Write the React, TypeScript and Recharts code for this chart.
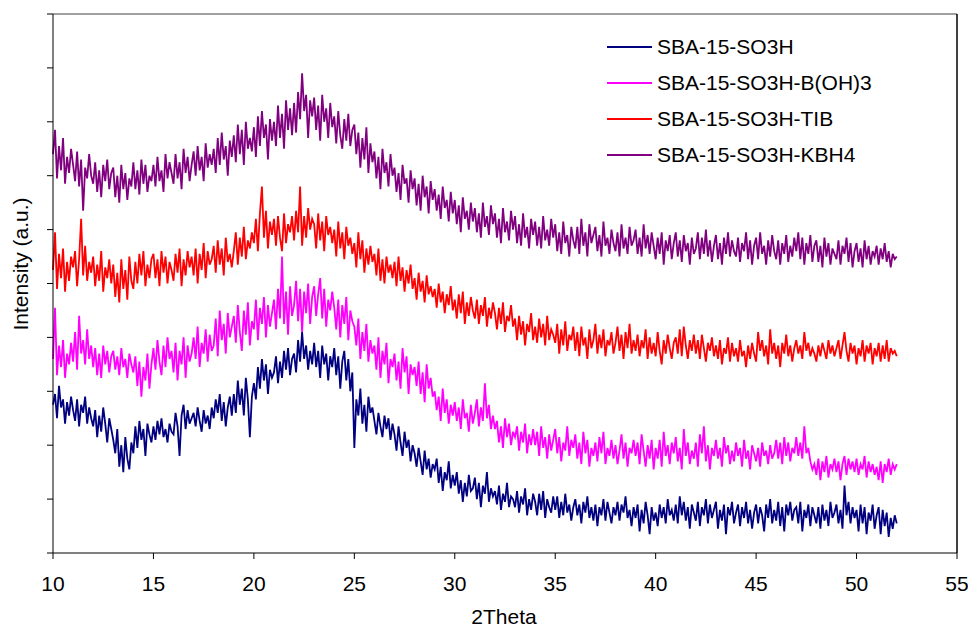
import React from "react";
import { LineChart, Line, XAxis, YAxis, ReferenceLine } from "recharts";

// 2Theta grid: 10.0 .. 52.0, step 0.1 (one row of ten values per degree)
const thetaStart = 10;
const thetaStep = 0.1;

const sba15SO3H = [
  2.75, 2.95, 2.50, 3.10, 2.70, 2.85, 2.40, 2.80, 2.55, 2.90,
  2.65, 2.45, 2.85, 2.35, 2.75, 2.60, 2.90, 2.40, 2.70, 2.50,
  2.35, 2.65, 2.15, 2.55, 2.25, 2.70, 2.40, 2.05, 2.50, 2.30,
  2.10, 1.85, 2.30, 1.60, 2.00, 1.50, 2.15, 1.75, 1.55, 2.05,
  1.85, 2.35, 1.95, 2.45, 2.10, 2.30, 1.80, 2.40, 2.20, 2.05,
  2.35, 2.10, 2.45, 2.20, 2.50, 2.15, 2.30, 2.05, 2.40, 2.25,
  2.20, 2.60, 2.35, 1.80, 2.55, 2.75, 2.30, 2.65, 2.40, 2.50,
  2.60, 2.35, 2.70, 2.45, 2.25, 2.65, 2.40, 2.55, 2.30, 2.70,
  2.50, 2.85, 2.60, 2.95, 2.45, 2.80, 2.35, 2.70, 2.90, 2.55,
  2.95, 2.60, 3.20, 2.75, 3.05, 2.55, 3.25, 2.85, 2.15, 2.90,
  3.15, 2.85, 3.45, 3.05, 3.60, 3.20, 3.50, 2.95, 3.40, 3.25,
  3.35, 3.65, 3.15, 3.55, 3.25, 3.75, 3.40, 3.80, 3.30, 3.60,
  3.70, 3.35, 3.95, 3.55, 4.10, 3.60, 3.85, 3.40, 3.75, 3.50,
  3.90, 3.45, 3.75, 3.25, 3.85, 3.50, 3.70, 3.20, 3.65, 3.45,
  3.80, 3.30, 3.65, 3.05, 3.55, 3.75, 3.20, 3.60, 3.00, 3.35,
  1.95, 2.85, 2.55, 3.05, 2.40, 2.75, 2.25, 2.90, 2.60, 2.70,
  2.45, 2.20, 2.60, 2.35, 2.15, 2.55, 2.30, 2.50, 2.10, 2.40,
  2.20, 1.90, 2.35, 2.05, 1.80, 2.25, 1.95, 2.10, 1.70, 2.00,
  1.85, 1.60, 1.95, 1.70, 1.45, 1.90, 1.55, 1.75, 1.40, 1.65,
  1.55, 1.75, 1.30, 1.60, 1.15, 1.50, 1.35, 1.70, 1.20, 1.45,
  1.25, 1.50, 1.10, 1.35, 0.95, 1.30, 1.05, 1.45, 1.15, 1.20,
  1.40, 1.00, 1.30, 0.85, 1.25, 1.10, 1.50, 0.95, 1.20, 1.05,
  1.15, 0.90, 1.25, 0.80, 1.10, 0.95, 1.30, 0.85, 1.05, 1.00,
  0.85, 1.15, 0.75, 1.05, 0.90, 1.20, 0.70, 1.00, 0.80, 1.10,
  0.95, 0.70, 1.10, 0.80, 1.15, 0.65, 1.00, 0.85, 0.75, 1.05,
  0.80, 1.05, 0.65, 0.95, 0.70, 1.10, 0.75, 0.90, 0.60, 0.85,
  1.00, 0.70, 0.90, 0.55, 0.95, 0.75, 1.05, 0.65, 0.85, 0.60,
  0.90, 0.50, 0.85, 0.70, 1.00, 0.60, 0.95, 0.75, 0.55, 0.85,
  0.70, 0.95, 0.60, 0.90, 0.75, 1.05, 0.65, 0.80, 0.50, 0.85,
  0.65, 0.90, 0.40, 0.80, 0.55, 0.95, 0.70, 0.35, 0.85, 0.60,
  0.75, 0.50, 0.90, 0.65, 0.85, 0.55, 1.00, 0.70, 0.80, 0.60,
  0.90, 0.55, 1.05, 0.70, 0.95, 0.60, 0.85, 0.45, 0.90, 0.75,
  0.60, 0.95, 0.50, 0.85, 0.70, 1.00, 0.55, 0.90, 0.65, 0.80,
  0.95, 0.45, 0.80, 0.60, 0.90, 0.35, 0.85, 0.70, 0.95, 0.55,
  0.75, 0.90, 0.50, 0.85, 0.65, 0.95, 0.55, 0.80, 0.45, 0.75,
  0.90, 0.55, 0.85, 0.70, 0.40, 0.90, 0.65, 1.00, 0.55, 0.80,
  0.60, 0.95, 0.50, 0.85, 0.40, 0.90, 0.70, 0.95, 0.60, 0.80,
  0.85, 0.55, 0.95, 0.40, 0.80, 0.65, 0.90, 0.50, 0.85, 0.70,
  0.55, 0.85, 0.45, 0.90, 0.60, 0.80, 0.50, 0.95, 0.65, 0.75,
  0.90, 0.55, 0.80, 0.45, 1.25, 0.70, 0.95, 0.55, 0.85, 0.65,
  0.80, 0.40, 0.90, 0.55, 0.85, 0.35, 0.75, 0.60, 0.90, 0.45,
  0.70, 0.85, 0.35, 0.80, 0.50, 0.75, 0.30, 0.65, 0.45, 0.70,
  0.55,
];

const sba15SO3HBOH3 = [
  3.60, 4.55, 3.30, 3.85, 3.45, 3.95, 3.25, 3.70, 3.50, 3.90,
  3.55, 4.10, 3.40, 4.40, 3.70, 3.95, 3.50, 4.15, 3.60, 3.85,
  3.45, 3.80, 3.30, 3.70, 3.25, 3.85, 3.50, 3.75, 3.35, 3.65,
  3.75, 3.40, 3.65, 3.30, 3.80, 3.45, 3.60, 3.25, 3.70, 3.50,
  3.35, 3.65, 3.10, 3.55, 2.90, 3.45, 3.20, 3.70, 3.05, 3.50,
  3.80, 3.40, 3.95, 3.55, 3.30, 3.85, 3.45, 4.00, 3.60, 3.75,
  3.35, 3.90, 3.20, 3.75, 3.50, 4.00, 3.25, 3.85, 3.55, 3.70,
  4.00, 3.60, 4.20, 3.45, 3.90, 3.70, 4.15, 3.55, 4.05, 3.75,
  3.85, 4.35, 3.65, 4.50, 3.95, 4.25, 3.70, 4.45, 4.00, 4.20,
  4.40, 3.90, 4.60, 4.10, 3.75, 4.50, 4.05, 4.65, 3.85, 4.30,
  4.15, 4.70, 3.95, 4.55, 4.25, 4.75, 4.00, 4.60, 4.20, 4.45,
  4.70, 4.15, 4.90, 4.35, 5.50, 4.25, 4.85, 4.05, 4.95, 4.40,
  4.60, 5.05, 4.30, 4.90, 4.10, 4.85, 4.45, 5.00, 4.25, 4.75,
  4.95, 4.40, 4.80, 5.10, 4.35, 4.90, 4.20, 4.70, 4.50, 4.85,
  4.55, 4.15, 4.70, 4.00, 4.60, 4.25, 4.75, 3.95, 4.50, 4.30,
  4.20, 3.85, 4.35, 3.60, 4.10, 3.75, 4.25, 3.55, 3.95, 3.70,
  3.85, 3.40, 4.00, 3.25, 3.75, 3.50, 3.90, 3.15, 3.60, 3.45,
  3.70, 3.20, 3.55, 3.05, 3.80, 3.35, 3.65, 2.95, 3.50, 3.30,
  3.45, 3.10, 3.55, 2.95, 3.35, 2.80, 3.50, 3.05, 3.25, 2.90,
  3.00, 2.65, 2.90, 2.45, 3.05, 2.60, 2.85, 2.40, 2.75, 2.55,
  2.80, 2.45, 2.70, 2.30, 2.85, 2.50, 2.60, 2.25, 2.75, 2.40,
  2.60, 2.85, 2.35, 2.70, 2.45, 3.15, 2.50, 2.75, 2.30, 2.55,
  2.30, 2.45, 2.05, 2.35, 1.95, 2.50, 2.15, 2.40, 2.00, 2.25,
  2.15, 2.35, 1.90, 2.25, 2.05, 2.40, 1.85, 2.20, 2.00, 2.30,
  2.00, 2.25, 1.80, 2.35, 1.95, 2.15, 1.75, 2.20, 1.90, 2.10,
  2.30, 1.85, 2.15, 1.70, 2.05, 1.90, 2.35, 1.80, 2.10, 1.95,
  2.20, 1.75, 2.05, 1.65, 2.25, 1.85, 2.10, 1.60, 1.95, 1.80,
  2.05, 1.70, 2.15, 1.85, 2.25, 1.65, 1.95, 1.80, 2.10, 1.75,
  2.00, 1.65, 1.90, 2.20, 1.75, 2.05, 1.60, 1.95, 1.85, 2.10,
  1.80, 2.05, 1.65, 2.20, 1.90, 1.60, 2.00, 1.75, 2.10, 1.55,
  1.95, 1.75, 2.10, 1.60, 2.25, 1.80, 2.00, 1.65, 2.05, 1.85,
  2.15, 1.70, 1.95, 1.55, 2.30, 1.80, 2.05, 1.65, 1.90, 1.75,
  2.05, 1.60, 2.20, 1.85, 2.35, 1.70, 2.00, 1.55, 1.95, 1.80,
  2.10, 1.75, 1.95, 1.60, 2.15, 1.85, 2.00, 1.65, 1.90, 1.70,
  2.05, 1.80, 1.95, 1.60, 2.10, 1.75, 1.90, 1.55, 2.00, 1.85,
  1.70, 1.95, 1.60, 2.05, 1.80, 1.90, 1.65, 2.00, 1.75, 1.85,
  2.10, 1.75, 2.05, 1.65, 2.15, 1.80, 2.05, 1.70, 1.95, 1.85,
  2.15, 1.80, 2.05, 1.75, 2.35, 1.85, 1.95, 1.70, 1.55, 1.65,
  1.45, 1.75, 1.35, 1.70, 1.50, 1.80, 1.40, 1.65, 1.55, 1.75,
  1.50, 1.70, 1.35, 1.65, 1.80, 1.45, 1.75, 1.55, 1.70, 1.50,
  1.75, 1.45, 1.65, 1.55, 1.80, 1.40, 1.70, 1.50, 1.65, 1.45,
  1.60, 1.35, 1.70, 1.30, 1.65, 1.50, 1.75, 1.45, 1.65, 1.55,
  1.65,
];

const sba15SO3HTIB = [
  5.25, 5.95, 4.90, 5.55, 5.10, 5.65, 4.85, 5.40, 5.05, 5.50,
  5.30, 5.60, 4.95, 5.45, 6.20, 5.15, 5.70, 5.05, 5.40, 5.20,
  5.50, 4.95, 5.35, 5.05, 5.60, 4.85, 5.30, 5.10, 5.45, 5.00,
  5.35, 4.75, 5.20, 4.65, 5.45, 4.90, 5.25, 4.70, 5.50, 5.05,
  4.90, 5.40, 5.00, 5.55, 5.15, 5.60, 4.95, 5.35, 5.10, 5.45,
  5.55, 5.10, 5.45, 4.95, 5.60, 5.20, 5.50, 5.00, 5.40, 5.25,
  5.05, 5.55, 5.20, 5.65, 4.95, 5.45, 5.15, 5.60, 5.30, 5.50,
  5.15, 5.65, 5.00, 5.55, 5.25, 5.75, 5.10, 5.60, 5.35, 5.45,
  5.70, 5.20, 5.80, 5.35, 5.65, 5.15, 5.85, 5.40, 5.55, 5.30,
  5.60, 5.95, 5.35, 5.85, 5.50, 6.05, 5.45, 5.80, 5.65, 5.95,
  5.75, 6.20, 5.60, 6.30, 6.80, 5.85, 6.35, 5.65, 6.15, 5.90,
  6.20, 5.70, 6.25, 5.85, 5.60, 6.30, 5.75, 6.10, 5.95, 6.25,
  5.80, 6.35, 5.95, 6.80, 5.70, 6.25, 5.85, 6.40, 6.00, 6.20,
  6.10, 5.65, 6.30, 5.80, 6.15, 5.60, 6.25, 5.90, 6.05, 5.75,
  6.00, 5.50, 6.15, 5.65, 5.95, 5.45, 6.05, 5.70, 5.85, 5.55,
  5.75, 5.30, 5.95, 5.45, 5.80, 5.20, 5.65, 5.35, 5.70, 5.40,
  5.55, 5.15, 5.65, 5.05, 5.45, 5.00, 5.50, 5.20, 5.35, 5.10,
  5.40, 4.95, 5.50, 5.05, 5.30, 4.85, 5.25, 5.00, 5.35, 4.90,
  5.10, 4.70, 5.20, 4.85, 5.05, 4.65, 5.15, 4.80, 4.95, 4.75,
  4.90, 4.55, 5.00, 4.65, 4.85, 4.45, 4.80, 4.60, 4.95, 4.50,
  4.70, 4.35, 4.80, 4.45, 4.85, 4.25, 4.65, 4.40, 4.75, 4.50,
  4.35, 4.70, 4.25, 4.60, 4.40, 4.75, 4.20, 4.55, 4.35, 4.65,
  4.45, 4.15, 4.55, 4.25, 4.65, 4.10, 4.40, 4.30, 4.60, 4.20,
  4.35, 3.95, 4.40, 4.05, 4.30, 3.85, 4.25, 4.10, 4.45, 3.95,
  4.20, 3.90, 4.35, 4.00, 4.25, 3.85, 4.40, 3.95, 4.15, 4.05,
  3.90, 4.25, 3.70, 4.15, 3.85, 4.30, 3.75, 4.05, 3.95, 4.20,
  3.75, 4.10, 3.65, 4.20, 3.85, 4.00, 3.60, 4.15, 3.80, 3.95,
  4.25, 3.70, 4.05, 3.80, 4.15, 3.65, 3.95, 3.85, 4.10, 3.70,
  3.90, 4.20, 3.75, 4.05, 3.60, 4.10, 3.80, 4.25, 3.70, 3.95,
  3.75, 4.05, 3.65, 3.95, 3.80, 4.15, 3.60, 4.00, 3.70, 3.90,
  3.65, 4.10, 3.75, 3.50, 3.95, 3.70, 4.05, 3.80, 3.60, 3.90,
  4.00, 3.70, 4.15, 3.65, 4.20, 3.85, 3.60, 3.95, 3.75, 4.05,
  3.70, 3.95, 3.60, 4.05, 3.80, 3.55, 3.90, 3.75, 4.00, 3.65,
  3.85, 3.60, 3.95, 3.50, 3.80, 3.70, 4.00, 3.55, 3.90, 3.65,
  3.80, 3.55, 3.95, 3.65, 3.75, 3.45, 3.85, 3.60, 3.90, 3.70,
  3.55, 4.10, 3.75, 3.95, 3.65, 3.85, 3.50, 4.15, 3.70, 3.90,
  3.60, 3.85, 3.45, 3.90, 3.70, 4.05, 3.65, 3.85, 3.55, 3.80,
  3.95, 3.70, 3.85, 3.60, 4.10, 3.75, 3.90, 3.65, 3.80, 3.70,
  3.55, 3.85, 3.65, 3.90, 3.75, 3.60, 3.95, 3.70, 3.85, 3.65,
  3.80, 3.95, 3.60, 3.85, 4.10, 3.75, 3.55, 3.90, 3.70, 3.85,
  3.50, 3.80, 3.65, 3.95, 3.55, 3.85, 3.70, 3.90, 3.50, 3.80,
  3.65, 3.90, 3.55, 3.85, 3.60, 3.95, 3.55, 3.80, 3.70, 3.75,
  3.65,
];

const sba15SO3HKBH4 = [
  7.40, 7.85, 6.95, 7.55, 7.10, 7.70, 6.85, 7.35, 7.05, 7.50,
  7.20, 6.90, 7.45, 6.80, 7.30, 6.35, 7.15, 6.95, 7.40, 7.00,
  6.85, 7.25, 6.70, 7.10, 6.60, 7.20, 6.90, 7.30, 6.75, 7.05,
  7.15, 6.60, 7.00, 6.50, 7.20, 6.75, 7.05, 6.55, 6.95, 6.80,
  7.25, 6.75, 7.10, 6.65, 7.30, 6.85, 7.20, 6.70, 7.00, 6.90,
  7.20, 6.80, 7.35, 6.90, 7.10, 6.70, 7.40, 6.95, 7.25, 7.05,
  6.85, 7.40, 6.95, 7.25, 6.75, 7.50, 7.05, 7.35, 6.90, 7.20,
  7.45, 7.00, 7.55, 7.10, 7.35, 6.90, 7.60, 7.15, 7.40, 7.20,
  7.50, 7.05, 7.70, 7.20, 7.80, 7.30, 7.55, 7.00, 7.65, 7.35,
  7.75, 7.25, 7.95, 7.40, 7.85, 7.20, 8.00, 7.50, 7.70, 7.45,
  7.90, 7.35, 8.10, 7.55, 8.20, 7.70, 7.95, 7.30, 8.05, 7.65,
  8.00, 7.55, 8.30, 7.70, 8.15, 7.50, 8.40, 7.85, 8.25, 7.75,
  8.35, 7.80, 8.55, 8.05, 8.90, 8.20, 8.50, 7.70, 8.40, 8.10,
  8.45, 7.85, 8.30, 7.65, 8.50, 8.00, 8.25, 7.70, 8.35, 7.90,
  8.10, 7.60, 8.20, 7.75, 7.50, 8.05, 7.65, 8.15, 7.55, 7.85,
  7.95, 7.40, 7.80, 7.15, 7.70, 7.30, 7.90, 7.05, 7.60, 7.25,
  7.45, 6.95, 7.35, 6.75, 7.50, 7.05, 7.25, 6.80, 7.40, 7.00,
  7.15, 6.70, 7.05, 6.55, 7.20, 6.85, 6.95, 6.50, 7.10, 6.75,
  6.95, 6.45, 6.85, 6.35, 7.00, 6.60, 6.80, 6.30, 6.90, 6.55,
  6.75, 6.35, 6.65, 6.20, 6.80, 6.40, 6.55, 6.15, 6.70, 6.30,
  6.55, 6.10, 6.45, 5.95, 6.60, 6.20, 6.35, 6.00, 6.50, 6.15,
  6.40, 5.95, 6.30, 5.85, 6.50, 6.05, 6.25, 5.90, 6.45, 6.10,
  6.30, 5.85, 6.20, 5.75, 6.40, 5.95, 6.15, 5.80, 6.35, 6.00,
  6.25, 5.75, 6.10, 5.70, 6.30, 5.85, 6.05, 5.65, 6.20, 5.90,
  6.15, 5.70, 6.05, 5.65, 6.25, 5.80, 6.00, 5.70, 6.20, 5.85,
  6.10, 5.60, 5.95, 5.55, 6.15, 5.75, 5.90, 5.50, 6.05, 5.80,
  5.65, 6.05, 5.55, 6.20, 5.70, 5.95, 5.50, 6.10, 5.75, 5.90,
  6.05, 5.60, 5.90, 5.50, 6.15, 5.70, 5.85, 5.55, 6.00, 5.75,
  5.60, 5.95, 5.50, 6.10, 5.65, 5.85, 5.55, 6.05, 5.70, 5.80,
  6.00, 5.55, 5.85, 5.50, 6.10, 5.65, 5.90, 5.55, 5.95, 5.70,
  5.45, 5.85, 5.55, 5.95, 5.35, 5.80, 5.60, 5.90, 5.45, 5.75,
  5.95, 5.50, 5.80, 5.40, 5.90, 5.60, 5.75, 5.35, 5.85, 5.55,
  5.65, 5.95, 5.45, 5.85, 5.55, 6.00, 5.50, 5.80, 5.40, 5.70,
  5.90, 5.45, 5.75, 5.35, 5.85, 5.55, 5.95, 5.50, 5.80, 5.60,
  5.50, 5.85, 5.40, 5.75, 5.60, 5.95, 5.45, 5.80, 5.35, 5.70,
  5.85, 5.45, 5.95, 5.55, 5.70, 5.35, 5.80, 5.50, 5.90, 5.60,
  5.45, 5.80, 5.35, 5.75, 5.55, 5.90, 5.40, 5.70, 5.50, 5.85,
  5.60, 5.95, 5.45, 5.85, 5.35, 5.75, 5.55, 5.90, 5.40, 5.70,
  5.80, 5.40, 5.70, 5.30, 5.85, 5.50, 5.75, 5.35, 5.65, 5.55,
  5.45, 5.80, 5.35, 5.70, 5.55, 5.85, 5.40, 5.75, 5.30, 5.60,
  5.75, 5.40, 5.65, 5.30, 5.80, 5.45, 5.70, 5.35, 5.60, 5.50,
  5.70, 5.35, 5.65, 5.45, 5.75, 5.40, 5.60, 5.30, 5.55, 5.45,
  5.50,
];

const seriesNames = [
  "SBA-15-SO3H",
  "SBA-15-SO3H-B(OH)3",
  "SBA-15-SO3H-TIB",
  "SBA-15-SO3H-KBH4",
];
const seriesColors = ["#000080", "#FF00FF", "#FF0000", "#800080"];
const seriesValues = [sba15SO3H, sba15SO3HBOH3, sba15SO3HTIB, sba15SO3HKBH4];
const seriesKeys = ["s0", "s1", "s2", "s3"];

const xTicks = [10, 15, 20, 25, 30, 35, 40, 45, 50, 55];
const yTicks = [0, 1, 2, 3, 4, 5, 6, 7, 8, 9, 10];

const nRows = Math.max(...seriesValues.map((s) => s.length));
const data = Array.from({ length: nRows }, (_, i) => {
  const row: Record<string, number | undefined> = {
    t: +(thetaStart + i * thetaStep).toFixed(1),
  };
  seriesKeys.forEach((k, j) => {
    row[k] = seriesValues[j][i];
  });
  return row;
});

const FONT = "Arial, 'Liberation Sans', sans-serif";

export default function App() {
  return (
    <div
      style={{
        position: "absolute",
        left: 0,
        top: 0,
        width: 968,
        height: 628,
        background: "#fff",
        fontFamily: FONT,
      }}
    >
      <LineChart
        width={968}
        height={628}
        data={data}
        margin={{ top: 14, right: 11, bottom: 0, left: 0 }}
      >
        <ReferenceLine y={10} stroke="#808080" strokeWidth={1.5} />
        <ReferenceLine x={55} stroke="#000" strokeWidth={1.5} />
        <XAxis
          dataKey="t"
          type="number"
          domain={[10, 55]}
          ticks={xTicks}
          interval={0}
          height={75}
          stroke="#000"
          tickSize={6}
          tickMargin={17}
          tick={{ fill: "#000", fontSize: 21, fontFamily: FONT }}
          label={{
            content: () => (
              <text
                x={504}
                y={624}
                textAnchor="middle"
                fill="#000"
                fontSize={21}
                fontFamily={FONT}
              >
                2Theta
              </text>
            ),
          }}
        />
        <YAxis
          type="number"
          domain={[0, 10]}
          ticks={yTicks}
          interval={0}
          width={53}
          stroke="#000"
          tickSize={6}
          tickFormatter={() => ""}
          label={{
            content: () => (
              <text
                x={20}
                y={264}
                transform="rotate(-90 20 264)"
                textAnchor="middle"
                dominantBaseline="central"
                fill="#000"
                fontSize={21}
                fontFamily={FONT}
              >
                Intensity (a.u.)
              </text>
            ),
          }}
        />
        {seriesKeys.map((k, j) => (
          <Line
            key={k}
            dataKey={k}
            name={seriesNames[j]}
            type="linear"
            stroke={seriesColors[j]}
            strokeWidth={1.8}
            dot={false}
            activeDot={false}
            isAnimationActive={false}
          />
        ))}
      </LineChart>
      <div style={{ position: "absolute", left: 607, top: 29 }}>
        {seriesNames.map((n, j) => (
          <div
            key={n}
            style={{
              display: "flex",
              alignItems: "center",
              height: 36,
              whiteSpace: "nowrap",
            }}
          >
            <div
              style={{
                width: 45,
                height: 2,
                background: seriesColors[j],
                marginRight: 5,
              }}
            />
            <span style={{ fontSize: 21, color: "#000", lineHeight: "36px" }}>
              {n}
            </span>
          </div>
        ))}
      </div>
    </div>
  );
}
